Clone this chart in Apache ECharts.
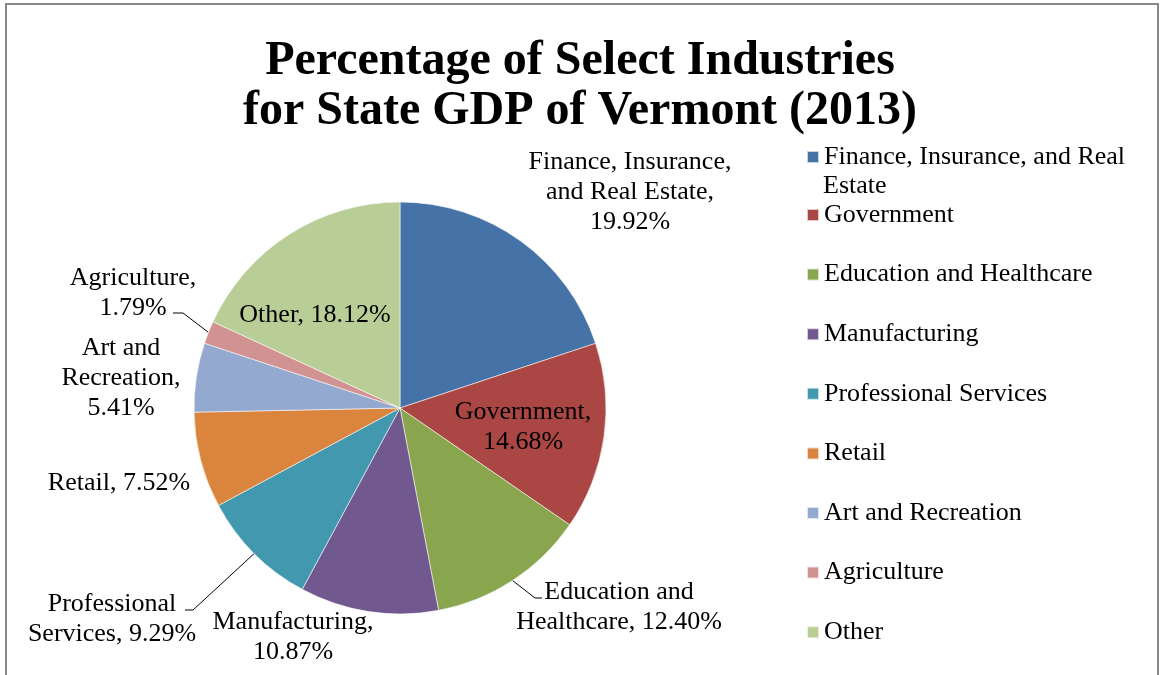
<!DOCTYPE html>
<html>
<head>
<meta charset="utf-8">
<script src="https://cdn.jsdelivr.net/npm/echarts@6/dist/echarts.min.js"></script>
<style>
html,body{margin:0;padding:0;background:#fff;}
#chart{width:1160px;height:675px;}
</style>
</head>
<body>
<div id="chart"></div>
<script>
// ---- data ----
const categories = ['Finance, Insurance, and Real Estate', 'Government', 'Education and Healthcare', 'Manufacturing', 'Professional Services', 'Retail', 'Art and Recreation', 'Agriculture', 'Other'];
const values = [19.92, 14.68, 12.40, 10.87, 9.29, 7.52, 5.41, 1.79, 18.12];
const labelPrefixes = ['Finance, Insurance,\nand Real Estate,', 'Government,', 'Education and\nHealthcare,', 'Manufacturing,', 'Professional\nServices,', 'Retail,', 'Art and\nRecreation,', 'Agriculture,', 'Other,'];
const labelSeparators = ['\n', '\n', ' ', '\n', ' ', ' ', '\n', '\n', ' '];
const colors = ['#4572A7', '#AA4643', '#89A54E', '#71588F', '#4198AF', '#DB843D', '#93A9CF', '#D19392', '#B9CD96'];

// ---- layout ----
const CX = 400, CY = 408, R = 206;
const labelCenters = [[630, 192], [523, 427], [619, 607], [293, 637], [112, 619], [119, 483], [121, 378], [133, 293], [315, 315]];
// leader lines: [elbow, end] or null
const leaders = [null, null, [[535, 598], [542, 598]], null, [[193, 610], [185, 610]], null, null, [[183, 313], [173, 313]], null];

const total = values.reduce((a, b) => a + b, 0);
function edgePoint(i) {
  let cum = 0;
  for (let k = 0; k < i; k++) cum += values[k];
  const th = 2 * Math.PI * (cum + values[i] / 2) / total;
  return [CX + R * Math.sin(th), CY - R * Math.cos(th)];
}

const font = 'Liberation Serif, Times New Roman, serif';
const chart = echarts.init(document.getElementById('chart'));

const seriesData = categories.map((c, i) => ({
  name: c,
  value: values[i],
  itemStyle: { color: colors[i] },
  labelLine: { show: !!leaders[i] }
}));

chart.setOption({
  animation: false,
  backgroundColor: '#fff',
  title: {
    text: 'Percentage of Select Industries\nfor State GDP of Vermont (2013)',
    left: 'center',
    top: 37,
    padding: [0, 0, 0, 8],
    textStyle: { fontFamily: font, fontWeight: 'bold', fontSize: 48, lineHeight: 50, color: '#000' }
  },
  legend: [
    {
      orient: 'vertical',
      left: 806,
      top: 142,
      padding: 0,
      data: [categories[0]],
      icon: 'rect',
      itemWidth: 12,
      itemHeight: 12,
      formatter: () => 'Finance, Insurance, and Real',
      textStyle: { fontFamily: font, fontSize: 26, lineHeight: 30, color: '#000' },
      selectedMode: false
    },
    {
      orient: 'vertical',
      left: 806,
      top: 200,
      padding: 0,
      data: categories.slice(1),
      icon: 'rect',
      itemWidth: 12,
      itemHeight: 12,
      itemGap: 29.6,
      textStyle: { fontFamily: font, fontSize: 26, lineHeight: 30, color: '#000' },
      selectedMode: false
    }
  ],
  graphic: [
    { type: 'text', left: 823, top: 173, style: { text: 'Estate', font: '26px ' + font, fill: '#000' } },
    { type: 'rect', shape: { x: 6, y: 4, width: 1152, height: 700 }, style: { fill: 'none', stroke: '#888', lineWidth: 2 }, silent: true }
  ],
  series: [{
    type: 'pie',
    center: [CX, CY],
    radius: R,
    startAngle: 90,
    clockwise: true,
    avoidLabelOverlap: false,
    data: seriesData,
    itemStyle: { borderColor: 'rgba(255,255,255,0.7)', borderWidth: 0.8 },
    label: {
      show: true,
      position: 'outside',
      fontFamily: font,
      fontSize: 26,
      lineHeight: 30,
      color: '#000',
      formatter: p => labelPrefixes[p.dataIndex] + labelSeparators[p.dataIndex] + p.value.toFixed(2) + '%'
    },
    labelLine: { lineStyle: { color: '#000', width: 1 } },
    labelLayout: params => {
      const i = params.dataIndex;
      const out = { x: labelCenters[i][0], y: labelCenters[i][1], align: 'center', verticalAlign: 'middle' };
      if (leaders[i]) {
        out.labelLinePoints = [edgePoint(i), leaders[i][0], leaders[i][1]];
      }
      return out;
    }
  }]
});
</script>
</body>
</html>
